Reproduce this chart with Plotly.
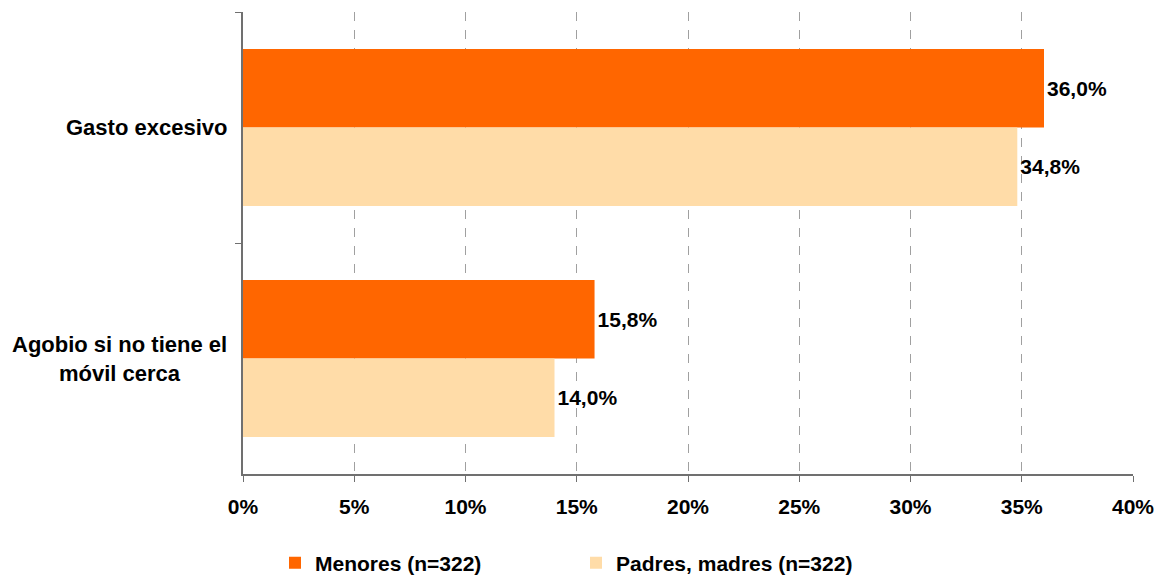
import plotly.graph_objects as go

categories = ["Gasto excesivo", "Agobio si no tiene el<br>móvil cerca"]
series_names = ["Menores (n=322)", "Padres, madres (n=322)"]
menores = [36.0, 15.8]
padres = [34.8, 14.0]
tick_vals = [0, 5, 10, 15, 20, 25, 30, 35, 40]
tick_text = ["0%", "5%", "10%", "15%", "20%", "25%", "30%", "35%", "40%"]

colors = ["#FF6600", "#FFDCA8"]
FONT = "Liberation Sans, Arial, sans-serif"
FS = 21

def fmt(v):
    return f"{v:.1f}".replace(".", ",") + "%"

fig = go.Figure()
for name, vals, col in zip(series_names, [menores, padres], colors):
    fig.add_trace(go.Bar(
        y=categories, x=vals, orientation="h", name=name,
        marker=dict(color=col, line=dict(width=0)),
        text=[fmt(v) for v in vals], textposition="outside",
        textfont=dict(family=FONT, size=FS, color="black", weight="bold"),
        cliponaxis=False,
    ))

for cat in categories:
    fig.add_annotation(
        x=0, xref="paper", xanchor="right", xshift=-14,
        y=cat, yref="y", text=cat, showarrow=False,
        align="center", font=dict(family=FONT, size=22, color="black", weight="bold"),
    )

fig.update_layout(
    width=1154, height=568,
    margin=dict(l=235, r=29, t=4, b=102),
    plot_bgcolor="white", paper_bgcolor="white",
    barmode="group", bargap=0.32, bargroupgap=0,
    font=dict(family=FONT, size=FS, color="black"),
    showlegend=True,
    legend=dict(
        orientation="h", xref="container", yref="container",
        x=267 / 1154, xanchor="left", y=1 - 555 / 568, yanchor="middle",
        font=dict(family=FONT, size=FS, color="black", weight="bold"),
        entrywidth=256, entrywidthmode="pixels",
        itemwidth=30, traceorder="normal",
    ),
)
fig.update_xaxes(
    range=[0, 40], tickvals=tick_vals, ticktext=tick_text,
    tickfont=dict(family=FONT, size=FS, color="black", weight="bold"),
    showgrid=True, gridcolor="#A0A0A0", griddash="dash", gridwidth=1,
    showline=True, linecolor="#707070", linewidth=2,
    ticks="outside", ticklen=6, tickcolor="#707070", tickwidth=1,
    zeroline=False, ticklabelstandoff=7,
)
fig.update_yaxes(
    autorange="reversed", type="category",
    showticklabels=False, tickson="boundaries",
    ticks="outside", ticklen=6, tickcolor="#707070", tickwidth=1,
    showline=True, linecolor="#707070", linewidth=2,
    showgrid=False, zeroline=False,
)
fig.write_html("out.html")
